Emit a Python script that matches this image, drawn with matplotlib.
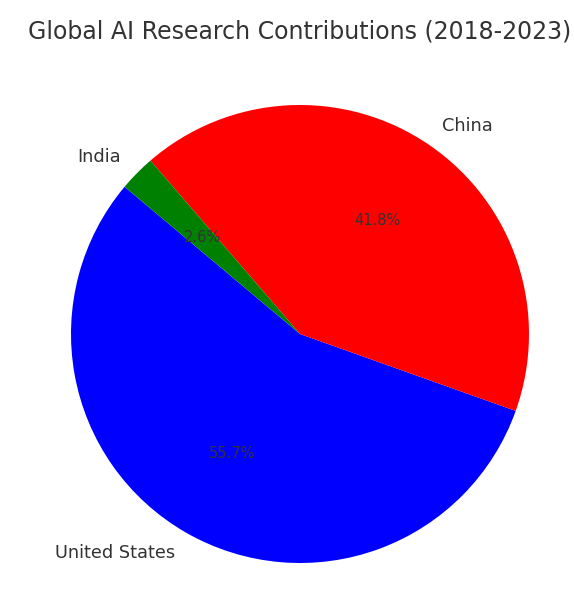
import matplotlib
matplotlib.use("Agg")
import matplotlib.pyplot as plt

labels = ["United States", "China", "India"]
shares = [55.66, 41.78, 2.56]
colors = ["blue", "red", "green"]
title = "Global AI Research Contributions (2018-2023)"

W, H = 574, 596
fig = plt.figure(figsize=(W / 100, H / 100), dpi=100)
ax = fig.add_axes([0, 0, 1, 1])
wedges, texts, autotexts = ax.pie(
    shares, labels=labels, colors=colors, autopct="%1.1f%%", startangle=140,
    textprops={"color": "#333333", "fontsize": 12.8},
)
for t in autotexts:
    t.set_fontsize(10.5)
    t.set_color("#333333")

cx, cy, r = 300, 334, 229
ax.set_xlim(-cx / r, (W - cx) / r)
ax.set_ylim(-(H - cy) / r, cy / r)
ax.set_aspect("auto")
ax.axis("off")

fig.text(300 / W, 1 - 32 / H, title, ha="center", va="center", fontsize=17, color="#333333")
fig.savefig("out.png", dpi=100)
